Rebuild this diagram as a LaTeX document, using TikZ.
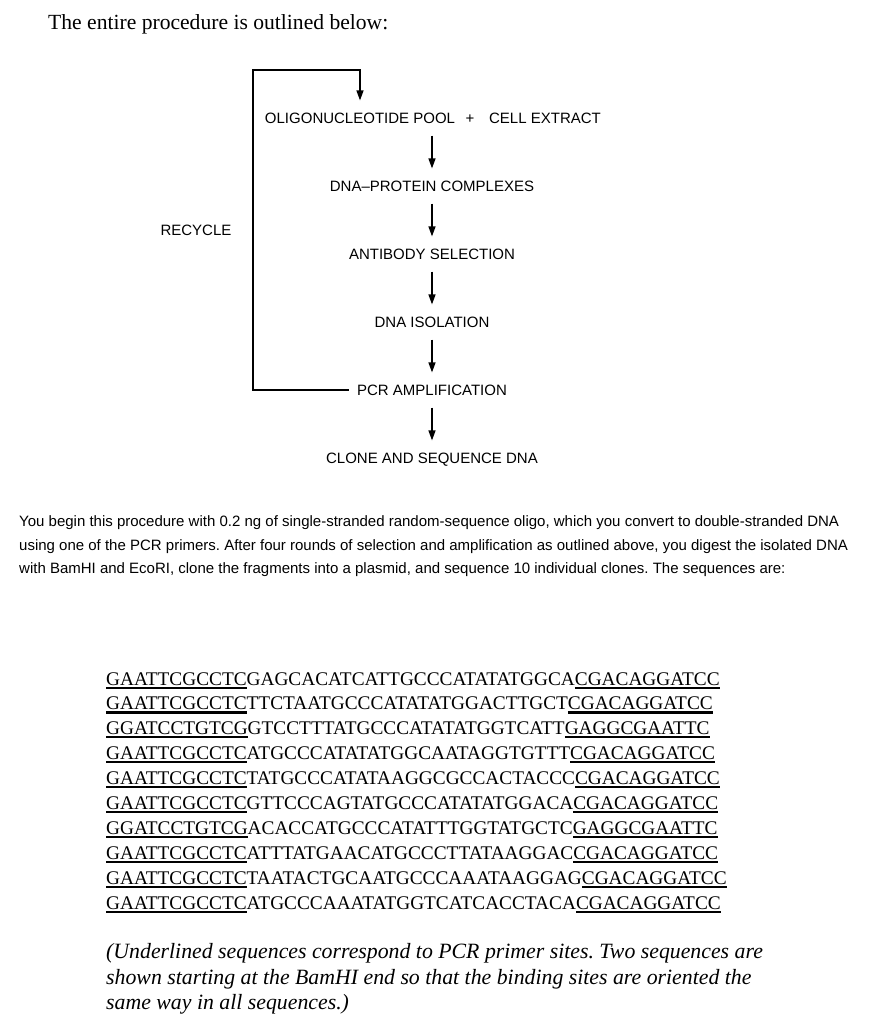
\documentclass[tikz,border=0pt]{standalone}
\usepackage{fontspec}
\setmainfont{Liberation Serif}
\setsansfont{Liberation Sans}
\usetikzlibrary{arrows.meta,positioning}
\frenchspacing
% underline for the primer sites
\newcommand\primer[1]{\setbox0=\hbox{#1}\leavevmode\rlap{\vrule width\wd0 height-1.5pt depth 3.6pt}\box0}

\begin{document}
\begin{tikzpicture}[x=1pt, y=-1pt,
    stage/.style={font=\sffamily\fontsize{15}{18}\selectfont, text height=10.8pt,
                  text depth=0pt, inner xsep=8pt, inner ysep=12pt},
    flow/.style={line width=1.4pt, -{Triangle[length=10pt,width=7pt]}},
    line/.style={anchor=base west, inner sep=0pt},
    seq/.style={line, font=\fontsize{19.3}{22}\selectfont},
    para/.style={line, font=\sffamily\fontsize{15}{17}\selectfont},
    note/.style={line, font=\itshape\fontsize{21.8}{24}\selectfont}
]
\useasboundingbox (0,0) rectangle (895,1024);

\node[line, font=\fontsize{21.6}{24}\selectfont] (title) at (48,30) {The entire procedure is outlined below:};

% flow chart
\node[stage] (pool)    at (360,118) {OLIGONUCLEOTIDE POOL};
\node[stage] (plus)    at (470,118) {+};
\node[stage] (extract) at (545,118) {CELL EXTRACT};
\node[stage] (complex) at (432,186) {DNA--PROTEIN COMPLEXES};
\node[stage] (antibody) at (432,254) {ANTIBODY SELECTION};
\node[stage] (isolate) at (432,322) {DNA ISOLATION};
\node[stage] (pcr)     at (432,390) {PCR AMPLIFICATION};
\node[stage] (clone)   at (432,458) {CLONE AND SEQUENCE DNA};
\node[stage] (recycle) at (196,230) {RECYCLE};
\coordinate (corner) at (253,70);

\draw[flow] (pool.south -| complex) -- (complex);
\draw[flow] (complex) -- (antibody);
\draw[flow] (antibody) -- (isolate);
\draw[flow] (isolate) -- (pcr);
\draw[flow] (pcr) -- (clone);
\draw[flow] (pcr.west) -| (corner) -| (pool.north);

% text
\node[para] (par1) at (19,526) {You begin this procedure with 0.2 ng of single-stranded random-sequence oligo, which you convert to double-stranded DNA};
\node[para] (par2) at (19,550) {using one of the PCR primers. After four rounds of selection and amplification as outlined above, you digest the isolated DNA};
\node[para] (par3) at (19,573) {with BamHI and EcoRI, clone the fragments into a plasmid, and sequence 10 individual clones. The sequences are:};

% sequences
\foreach \a/\b/\c [count=\i] in {
    GAATTCGCCTC/GAGCACATCATTGCCCATATATGGCA/CGACAGGATCC,
    GAATTCGCCTC/TTCTAATGCCCATATATGGACTTGCT/CGACAGGATCC,
    GGATCCTGTCG/GTCCTTTATGCCCATATATGGTCATT/GAGGCGAATTC,
    GAATTCGCCTC/ATGCCCATATATGGCAATAGGTGTTT/CGACAGGATCC,
    GAATTCGCCTC/TATGCCCATATAAGGCGCCACTACCC/CGACAGGATCC,
    GAATTCGCCTC/GTTCCCAGTATGCCCATATATGGACA/CGACAGGATCC,
    GGATCCTGTCG/ACACCATGCCCATATTTGGTATGCTC/GAGGCGAATTC,
    GAATTCGCCTC/ATTTATGAACATGCCCTTATAAGGAC/CGACAGGATCC,
    GAATTCGCCTC/TAATACTGCAATGCCCAAATAAGGAG/CGACAGGATCC,
    GAATTCGCCTC/ATGCCCAAATATGGTCATCACCTACA/CGACAGGATCC}
  \node[seq] (seq\i) at (106,{685+24.9*(\i-1)}) {\primer{\a}\b\primer{\c}};

\node[note] (note1) at (106,958) {(Underlined sequences correspond to PCR primer sites. Two sequences are};
\node[note] (note2) at (106,984) {shown starting at the BamHI end so that the binding sites are oriented the};
\node[note] (note3) at (106,1009) {same way in all sequences.)};
\end{tikzpicture}
\end{document}
